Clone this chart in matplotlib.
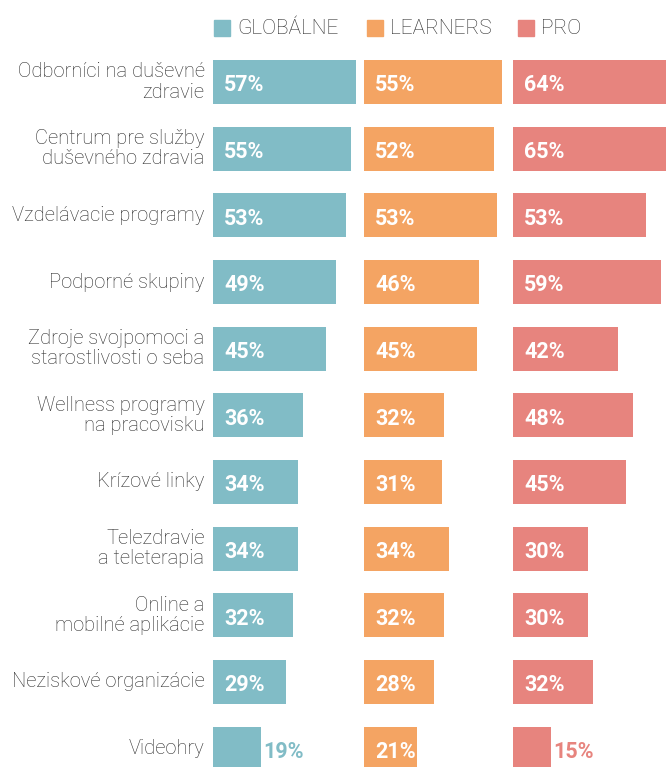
import matplotlib
matplotlib.use('Agg')
import matplotlib.pyplot as plt
from matplotlib.patches import Rectangle

plt.rcParams['font.family'] = ['Roboto', 'DejaVu Sans']

categories = ['Odborníci na duševné\nzdravie',
              'Centrum pre služby\nduševného zdravia',
              'Vzdelávacie programy',
              'Podporné skupiny',
              'Zdroje svojpomoci a\nstarostlivosti o seba',
              'Wellness programy\nna pracovisku',
              'Krízové linky',
              'Telezdravie\na teleterapia',
              'Online a\nmobilné aplikácie',
              'Neziskové organizácie',
              'Videohry']
globalne = [57, 55, 53, 49, 45, 36, 34, 34, 32, 29, 19]
learners = [55, 52, 53, 46, 45, 32, 31, 34, 32, 28, 21]
pro = [64, 65, 53, 59, 42, 48, 45, 30, 30, 32, 15]
series_names = ['GLOBÁLNE', 'LEARNERS', 'PRO']
colors = ['#81bcc6', '#f4a463', '#e7847e']

W, H = 666, 767
fig = plt.figure(figsize=(W / 100, H / 100), dpi=100)

# panel pixel geometry: left edge, width
panels = [(213, 147), (364, 147), (513, 153)]
px_per_pct = 2.5
row_px = 66.66
top_px = 48.7
n = len(categories)
ylo = -0.5 + (H - top_px) / row_px

axes = []
for (left, width), vals, col in zip(panels, [globalne, learners, pro], colors):
    ax = fig.add_axes([left / W, 0, width / W, (H - top_px) / H])
    ax.barh(range(n), vals, height=0.66, color=col)
    ax.set_xlim(0, width / px_per_pct)
    ax.set_ylim(ylo, -0.5)
    ax.axis('off')
    for i, v in enumerate(vals):
        if v < 20:
            ax.text(v + 1.2, i + 0.05, f'{v}%', va='center', ha='left',
                    color=col, fontsize=15.5, fontweight='bold')
        else:
            ax.text(4.5, i + 0.05, f'{v}%', va='center', ha='left',
                    color='white', fontsize=15.5, fontweight='bold')
    axes.append(ax)

# category labels to the left of the first panel
for i, lab in enumerate(categories):
    axes[0].text(-3.4, i, lab, va='center', ha='right', fontsize=14.5,
                 fontweight='light', color='#2b2b2b', linespacing=1.1,
                 clip_on=False)

# legend
leg_x = [214, 367, 518]
for x, name, col in zip(leg_x, series_names, colors):
    fig.patches.append(Rectangle((x / W, 1 - 36 / H), 16 / W, 16 / H,
                                 transform=fig.transFigure, color=col))
    fig.text((x + 23) / W, 1 - 28 / H, name, va='center', ha='left',
             fontsize=15, fontweight='light', color='#2b2b2b')

fig.savefig('out.png', dpi=100)
